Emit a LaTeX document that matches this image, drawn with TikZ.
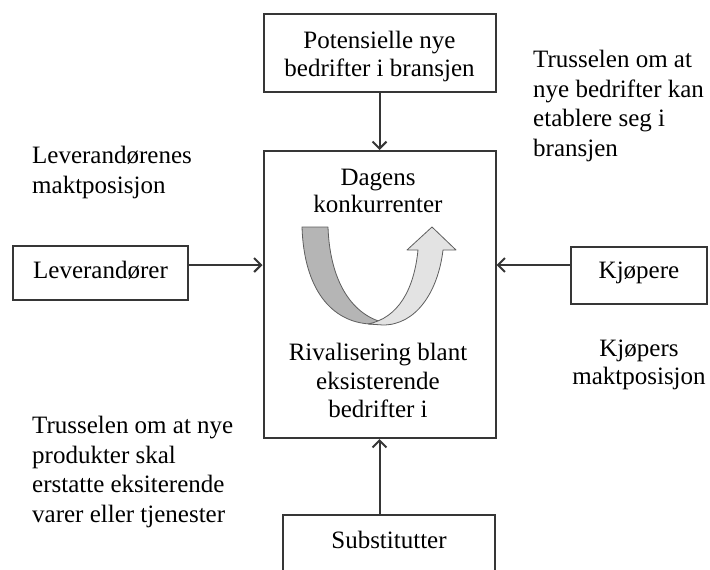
\documentclass[tikz,border=0pt]{standalone}
\usepackage{fontspec}
\setmainfont{Liberation Serif}
\usetikzlibrary{arrows.meta}
\definecolor{edge}{HTML}{363636}
\definecolor{bandA}{HTML}{B5B5B5}
\definecolor{bandB}{HTML}{E3E3E3}
\begin{document}
\begin{tikzpicture}[x=1pt,y=-1pt,
  box/.style={draw=edge, line width=2pt, fill=white, inner sep=0pt, align=center,
    font=\fontsize{25}{28}\selectfont},
  lbl/.style={inner sep=0pt, font=\fontsize{25}{29.5}\selectfont},
  arr/.style={draw=edge, line width=2pt, -{Straight Barb[length=7pt,width=14pt,line width=2pt]}},
  band/.style={draw=edge!80, line width=0.8pt, line join=round}]
\clip (0,0) rectangle (710,570);
\fill[white] (0,0) rectangle (710,570);
% boxes
\node[box, minimum width=232pt, minimum height=78pt] (pot) at (379.5,53) {};
\node[lbl, align=center, anchor=north, font=\fontsize{25}{28}\selectfont] (potT) at (379.5,31) {Potensielle nye\\bedrifter i bransjen};
\node[box, minimum width=232pt, minimum height=287pt] (c) at (379.5,294.5) {};
\node[box, minimum width=175pt, text height=32pt, text depth=22pt, anchor=base] (lev) at (100.5,278) {Leverandører};
\node[box, minimum width=136pt, text height=31pt, text depth=26pt, anchor=base] (kjo) at (639,278) {Kjøpere};
\node[box, minimum width=212pt, text height=33pt, text depth=45pt, anchor=base] (sub) at (389,548) {Substitutter};
% central texts
\node[lbl, align=center, anchor=north, font=\fontsize{25}{27}\selectfont] (dag) at (378,169) {Dagens\\konkurrenter};
\node[lbl, align=center, anchor=north, font=\fontsize{25}{28.5}\selectfont] (riv) at (378,343) {Rivalisering blant\\eksisterende\\bedrifter i};
% ribbon
\path[band, fill=bandA] (302,227) -- (328,227) .. controls (330,285) and (355,320) .. (392,324) -- (370,324) .. controls (332,322) and (304,290) .. (302,227) -- cycle;
\path[band, fill=bandB] (368,324) .. controls (398,318) and (414,290) .. (418,250) -- (407,250) -- (432,227) -- (456,250) -- (443,250) .. controls (438,292) and (416,325) .. (383,325) -- cycle;
% connectors
\draw[arr] (pot.south -| c.north) -- (c.north);
\draw[arr] (sub.north -| c.south) -- (c.south);
\coordinate (la) at ([yshift=8pt]lev.east);
\draw[arr] (la) -- (la -| c.west);
\coordinate (ka) at ([yshift=10.5pt]kjo.west);
\draw[arr] (ka) -- (ka -| c.east);
% outside labels
\node[lbl, align=left, anchor=north west] (t1) at (533,50) {Trusselen om at\\nye bedrifter kan\\etablere seg i\\bransjen};
\node[lbl, align=left, anchor=north west] (t2) at (32,146) {Leverandørenes\\maktposisjon};
\node[lbl, align=center, anchor=north, font=\fontsize{25}{28}\selectfont] (t3) at (639,340) {Kjøpers\\maktposisjon};
\node[lbl, align=left, anchor=north west] (t4) at (32,416) {Trusselen om at nye\\produkter skal\\erstatte eksiterende\\varer eller tjenester};
\end{tikzpicture}
\end{document}
